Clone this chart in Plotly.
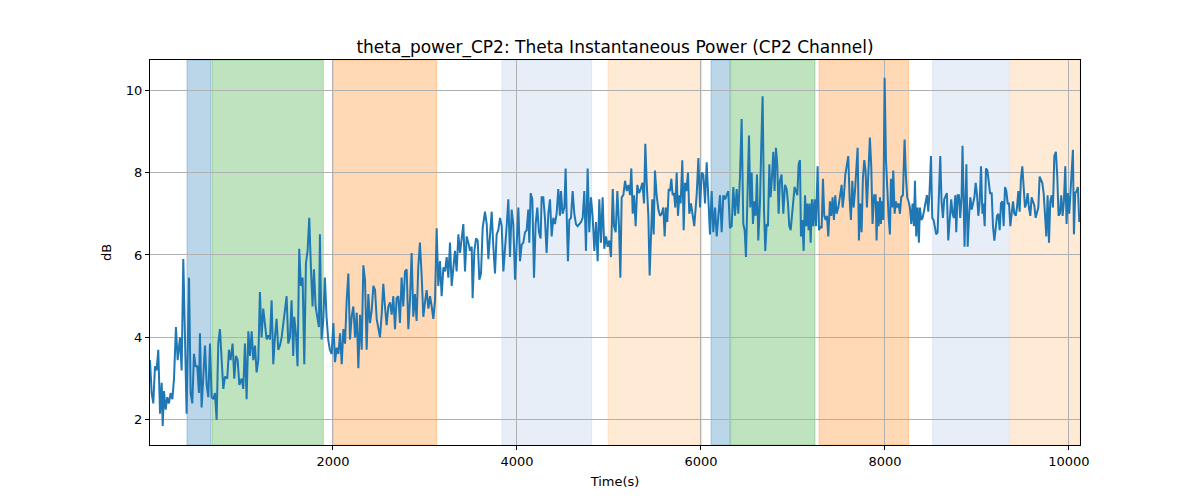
import plotly.graph_objects as go

# ---- data ----
time_s = [
    # 0 - 1000
    11, 29, 47, 65, 83, 101, 120, 138, 149, 163, 181, 199, 217, 235, 254, 272, 293, 312, 337, 355,
    373, 391, 409, 435, 453, 471, 489, 507, 525, 543, 554, 572, 590, 609, 627, 645, 663, 681, 699, 717,
    735, 753, 771, 790, 808, 826, 851, 869, 887, 909, 927, 945, 964, 982,
    # 1000 - 2000
    1007, 1025, 1043, 1061, 1080, 1098, 1116, 1134, 1152, 1170, 1188, 1206, 1224, 1242, 1261, 1279, 1297, 1315, 1333, 1351,
    1369, 1387, 1405, 1423, 1442, 1460, 1478, 1496, 1514, 1532, 1550, 1568, 1579, 1597, 1615, 1633, 1651, 1670, 1688, 1706,
    1724, 1742, 1760, 1778, 1793, 1811, 1829, 1847, 1858, 1876, 1894, 1912, 1930, 1948, 1966, 1985,
    # 2000 - 3000
    2004, 2022, 2040, 2059, 2077, 2095, 2113, 2131, 2149, 2167, 2185, 2203, 2221, 2240, 2258, 2276, 2294, 2312, 2330, 2348,
    2366, 2384, 2402, 2421, 2439, 2457, 2475, 2493, 2511, 2529, 2547, 2565, 2583, 2602, 2620, 2638, 2656, 2674, 2692, 2710,
    2728, 2746, 2764, 2783, 2801, 2819, 2837, 2855, 2873, 2891, 2909, 2927, 2945, 2964, 2982, 3000,
    # 3000 - 4000
    3018, 3037, 3055, 3073, 3091, 3109, 3127, 3145, 3163, 3181, 3200, 3218, 3236, 3254, 3272, 3290, 3308, 3326, 3344, 3363,
    3381, 3399, 3417, 3435, 3453, 3471, 3489, 3508, 3518, 3537, 3555, 3573, 3591, 3609, 3627, 3652, 3671, 3689, 3707, 3725,
    3743, 3761, 3779, 3797, 3816, 3834, 3852, 3870, 3888, 3906, 3924, 3942, 3960, 3979,
    # 4000 - 5000
    3996, 4015, 4033, 4051, 4069, 4087, 4105, 4123, 4134, 4149, 4167, 4185, 4203, 4221, 4239, 4257, 4268, 4286, 4304, 4322,
    4341, 4359, 4377, 4395, 4413, 4431, 4449, 4467, 4478, 4496, 4515, 4529, 4540, 4554, 4569, 4587, 4605, 4623, 4641, 4659,
    4678, 4696, 4714, 4732, 4750, 4768, 4786, 4804, 4822, 4841, 4859, 4877, 4895, 4913, 4931, 4949,
    # 5000 - 6000
    4968, 4986, 5004, 5022, 5041, 5055, 5073, 5091, 5109, 5124, 5138, 5156, 5175, 5193, 5211, 5229, 5243, 5258, 5272, 5290,
    5308, 5327, 5345, 5363, 5381, 5395, 5410, 5428, 5442, 5457, 5471, 5486, 5500, 5518, 5537, 5555, 5573, 5591, 5605, 5620,
    5634, 5649, 5663, 5678, 5692, 5707, 5721, 5736, 5750, 5765, 5779, 5797, 5812, 5826, 5841, 5859, 5873, 5891, 5909, 5927,
    # 6000 - 7000
    5953, 5972, 5990, 6008, 6026, 6044, 6062, 6080, 6098, 6116, 6134, 6153, 6171, 6189, 6207, 6225, 6243, 6261, 6279, 6297,
    6315, 6334, 6352, 6370, 6388, 6406, 6424, 6442, 6460, 6475, 6489, 6504, 6522, 6536, 6551, 6565, 6580, 6594, 6609, 6623,
    6641, 6656, 6670, 6685, 6699, 6714, 6728, 6743, 6757, 6772, 6786, 6800, 6815, 6829, 6844, 6858, 6876, 6895, 6913,
    # 7000 - 8000
    6931, 6946, 6960, 6975, 6989, 7004, 7018, 7033, 7047, 7062, 7076, 7087, 7102, 7116, 7131, 7145, 7156, 7170, 7181, 7192,
    7207, 7221, 7235, 7250, 7268, 7283, 7297, 7312, 7326, 7340, 7355, 7369, 7384, 7402, 7416, 7431, 7445, 7460, 7474, 7493,
    7511, 7529, 7540, 7554, 7569, 7583, 7601, 7616, 7630, 7645, 7659, 7674, 7688, 7703, 7717, 7731, 7746, 7760, 7775, 7789,
    7804, 7818, 7836, 7851, 7865, 7883,
    # 8000 - 9000
    7899, 7909, 7920, 7931, 7946, 7956, 7967, 7982, 7996, 8011, 8025, 8040, 8054, 8065, 8080, 8090, 8105, 8119, 8134, 8148,
    8163, 8177, 8195, 8213, 8228, 8242, 8257, 8271, 8286, 8300, 8315, 8326, 8340, 8355, 8369, 8380, 8395, 8409, 8423, 8442,
    8456, 8471, 8485, 8500, 8514, 8528, 8543, 8557, 8572, 8586, 8601, 8615, 8630, 8644, 8659, 8673, 8688, 8706, 8720, 8735,
    8749, 8764, 8775, 8789, 8804, 8818, 8833, 8843, 8854, 8865,
    # 9000 - 10120
    8885, 8899, 8914, 8928, 8943, 8957, 8972, 8986, 9001, 9015, 9030, 9044, 9059, 9069, 9084, 9098, 9113, 9127, 9142, 9160,
    9174, 9189, 9203, 9218, 9232, 9247, 9261, 9276, 9290, 9305, 9319, 9334, 9348, 9363, 9377, 9392, 9406, 9421, 9435, 9450,
    9464, 9478, 9493, 9507, 9522, 9536, 9551, 9565, 9580, 9594, 9609, 9623, 9638, 9652, 9667, 9681, 9696, 9710, 9725, 9739,
    9754, 9768, 9783, 9797, 9812, 9826, 9841,
    9858, 9873, 9887, 9902, 9916, 9931, 9945, 9960, 9974, 9988, 10003, 10017, 10032, 10043, 10054, 10068, 10083, 10097, 10112,
]

theta_db = [
    3.45, 2.65, 2.4, 3.3, 3.2, 3.7, 2.15, 2.9, 1.85, 2.7, 2.25, 2.55, 2.4, 2.65, 2.5, 3.0, 4.25, 3.45, 4.0, 3.2,
    5.9, 3.85, 2.15, 5.45, 2.65, 2.4, 3.6, 3.3, 3.3, 2.65, 4.1, 2.3, 3.05, 3.8, 2.85, 2.55, 3.85, 2.55, 2.5, 2.65,
    2.0, 3.85, 4.2, 3.55, 2.75, 3.05, 3.0, 3.7, 3.45, 3.85, 3.0, 3.55, 3.45, 2.85,
    3.0, 2.75, 3.85, 2.5, 4.15, 3.55, 4.15, 3.45, 3.8, 3.15, 3.45, 5.1, 4.0, 4.7, 4.35, 3.95, 4.05, 3.95, 4.9, 3.35,
    4.0, 4.45, 3.7, 3.8, 4.0, 4.35, 4.6, 5.0, 3.85, 4.0, 4.9, 3.55, 4.5, 4.1, 3.3, 6.15, 5.25, 5.45, 3.35, 5.8,
    6.1, 6.9, 5.7, 4.75, 5.65, 4.75, 4.5, 4.25, 6.5, 3.95, 4.4, 5.45, 4.5, 3.95, 3.7, 3.6,
    4.35, 3.4, 3.75, 3.6, 4.1, 3.35, 4.2, 3.85, 4.9, 5.55, 3.95, 4.5, 4.75, 4.0, 4.6, 3.25, 4.55, 3.7, 5.75, 5.4,
    3.7, 5.05, 4.35, 4.65, 5.25, 5.15, 4.45, 4.25, 4.0, 4.55, 5.3, 4.75, 4.3, 4.75, 4.85, 4.55, 5.0, 4.2, 4.95, 5.0,
    4.35, 5.45, 4.75, 5.6, 5.65, 4.2, 4.9, 6.05, 4.5, 5.05, 4.4, 5.7, 6.3, 5.5, 4.5, 4.85,
    5.15, 4.7, 5.0, 4.75, 4.45, 4.9, 6.65, 5.25, 5.85, 5.0, 5.7, 5.6, 5.95, 5.45, 6.3, 5.25, 5.75, 6.1, 5.6, 6.5,
    6.05, 6.35, 6.75, 5.6, 6.45, 6.3, 6.1, 6.2, 4.95, 6.1, 6.4, 6.35, 5.4, 5.55, 6.65, 7.05, 6.75, 5.9, 6.5, 7.05,
    6.2, 5.55, 6.5, 6.6, 6.9, 6.7, 5.6, 6.1, 6.7, 7.35, 5.95, 7.1, 6.75, 5.4,
    6.15, 7.15, 5.85, 6.25, 6.3, 6.55, 6.6, 7.1, 6.3, 7.5, 7.35, 5.45, 6.75, 7.15, 6.55, 6.4, 7.4, 7.4, 6.9, 6.05,
    7.0, 7.35, 6.45, 6.9, 6.75, 7.0, 7.6, 6.95, 7.55, 7.0, 7.15, 8.1, 7.0, 5.85, 6.85, 6.9, 7.55, 7.0, 6.75, 6.7,
    6.75, 6.8, 6.9, 7.55, 6.1, 8.1, 6.55, 7.4, 6.95, 6.1, 6.8, 5.85, 7.35, 6.3, 7.4, 6.15,
    6.45, 6.2, 6.35, 5.95, 7.6, 6.7, 6.55, 7.55, 6.7, 5.45, 7.4, 7.45, 7.8, 7.55, 7.7, 7.45, 8.1, 7.0, 7.45, 6.7,
    7.7, 7.5, 7.6, 7.75, 7.25, 8.7, 7.75, 6.95, 5.5, 6.7, 7.35, 6.5, 8.05, 7.45, 7.1, 6.95, 7.0, 7.15, 6.45, 7.15,
    6.8, 7.6, 7.55, 7.85, 7.45, 7.5, 7.15, 8.0, 6.95, 7.45, 7.25, 8.3, 6.6, 7.75, 7.55, 8.0, 7.0, 7.25, 7.0, 6.7,
    7.45, 8.35, 7.15, 8.0, 7.95, 7.25, 8.25, 7.35, 6.5, 7.55, 6.55, 7.15, 6.45, 6.95, 7.45, 6.55, 7.45, 7.35, 7.45, 7.55,
    6.65, 6.7, 7.65, 6.95, 7.6, 7.0, 7.9, 9.3, 6.75, 6.6, 5.95, 7.65, 8.9, 7.15, 8.0, 6.75, 7.3, 6.95, 7.95, 6.35,
    7.25, 8.7, 9.85, 7.1, 6.1, 6.75, 6.7, 8.2, 7.4, 7.9, 8.5, 7.55, 8.6, 8.2, 7.0, 7.8, 7.95, 7.0, 7.7,
    7.6, 7.25, 6.7, 6.6, 6.95, 7.35, 7.65, 7.55, 7.45, 8.2, 8.3, 6.45, 6.85, 6.1, 7.45, 6.7, 7.25, 6.6, 7.25, 6.3,
    7.35, 6.7, 7.35, 6.7, 8.15, 6.6, 6.7, 6.65, 7.85, 6.95, 6.85, 6.95, 6.45, 7.3, 6.95, 7.4, 6.85, 7.45, 7.0, 7.15,
    7.45, 7.7, 7.15, 7.45, 7.95, 8.2, 8.4, 7.35, 6.85, 7.8, 7.15, 7.55, 8.05, 8.6, 6.35, 7.25, 6.55, 7.85, 8.3, 8.05,
    7.15, 7.8, 8.85, 8.15, 6.75, 7.45,
    7.45, 6.35, 7.3, 6.7, 7.4, 6.75, 7.3, 6.85, 10.3, 8.3, 7.4, 6.9, 6.5, 7.85, 7.15, 8.05, 7.0, 7.3, 7.15, 7.25,
    7.0, 7.4, 7.45, 8.8, 7.9, 7.4, 7.3, 7.15, 6.75, 7.25, 6.7, 7.8, 6.45, 7.15, 6.3, 7.15, 6.85, 6.9, 7.05, 7.3,
    7.45, 7.05, 7.55, 8.4, 6.9, 6.85, 6.6, 6.5, 6.55, 7.4, 8.4, 7.3, 6.9, 7.35, 7.45, 7.5, 6.35, 7.0, 7.35, 7.0,
    6.9, 7.45, 6.55, 7.45, 7.45, 6.9, 7.45, 8.65, 7.05, 6.2,
    8.2, 6.2, 6.95, 7.4, 7.1, 7.25, 7.4, 7.75, 7.45, 6.95, 7.3, 8.15, 7.0, 7.25, 6.7, 8.1, 8.05, 7.8, 7.5, 7.5,
    6.7, 6.35, 6.7, 6.95, 7.0, 6.6, 7.25, 7.3, 6.7, 7.65, 7.55, 7.25, 7.25, 6.7, 7.0, 7.3, 7.0, 6.95, 7.15, 7.55,
    7.05, 7.85, 8.15, 7.65, 7.15, 7.25, 7.5, 7.15, 6.95, 7.4, 7.3, 7.2, 6.9, 7.0, 7.15, 7.9, 7.8, 7.75, 7.5, 6.8,
    6.45, 7.45, 6.3, 7.3, 7.45, 7.15, 8.4,
    8.5, 7.9, 6.95, 7.0, 7.45, 6.95, 7.3, 8.15, 6.75, 7.5, 7.0, 7.5, 8.3, 8.55, 6.5, 7.5, 7.55, 7.65, 6.8,
]
assert len(time_s) == len(theta_db), (len(time_s), len(theta_db))

# shaded epochs: start, end, colour (tab10 / tab20 palette)
span_start = [413, 685, 2003, 3837, 4990, 6109, 6323, 7283, 8518, 9367]
span_end = [674, 1895, 3127, 4812, 6008, 6316, 7239, 8257, 9352, 10120]
span_rgb = ["31,119,180", "44,160,44", "255,127,14", "174,199,232", "255,187,120",
            "31,119,180", "44,160,44", "255,127,14", "174,199,232", "255,187,120"]

x_tick_vals = [2000, 4000, 6000, 8000, 10000]
x_tick_text = ["2000", "4000", "6000", "8000", "10000"]
y_tick_vals = [2, 4, 6, 8, 10]

FONT = "DejaVu Sans, Liberation Sans, sans-serif"

fig = go.Figure()
for s, e, c in zip(span_start, span_end, span_rgb):
    fig.add_vrect(x0=s, x1=e, fillcolor=f"rgba({c},0.3)",
                  line=dict(color=f"rgba({c},0.3)", width=1), layer="below")

fig.add_trace(go.Scatter(x=time_s, y=theta_db, mode="lines",
                         line=dict(color="#1f77b4", width=2), showlegend=False))

axis_common = dict(showline=True, linecolor="black", linewidth=1, mirror=True,
                   ticks="outside", ticklen=4, tickwidth=1, tickcolor="black",
                   showgrid=True, gridcolor="#b0b0b0", gridwidth=1, zeroline=False,
                   tickfont=dict(family=FONT, size=13, color="black"))

# the page body adds an 8px offset; margins compensate so the axes sit at
# x 150-1080, y 60-445 in the 1200x500 window
fig.update_layout(
    width=1200, height=500,
    margin=dict(l=142, r=128, t=52, b=63),
    paper_bgcolor="white", plot_bgcolor="white",
    font=dict(family=FONT, color="black"),
    title=dict(text="theta_power_CP2: Theta Instantaneous Power (CP2 Channel)",
               x=0.5, xref="paper", xanchor="center",
               y=1, yref="paper", yanchor="bottom", pad=dict(b=7),
               font=dict(family=FONT, size=17, color="black")),
    xaxis=dict(range=[11, 10120], tickvals=x_tick_vals, ticktext=x_tick_text,
               title=dict(text="Time(s)", font=dict(family=FONT, size=13), standoff=9),
               **axis_common),
    yaxis=dict(range=[1.39, 10.73], tickvals=y_tick_vals,
               title=dict(text="dB", font=dict(family=FONT, size=13), standoff=11),
               **axis_common),
)

fig.write_html("out.html")
